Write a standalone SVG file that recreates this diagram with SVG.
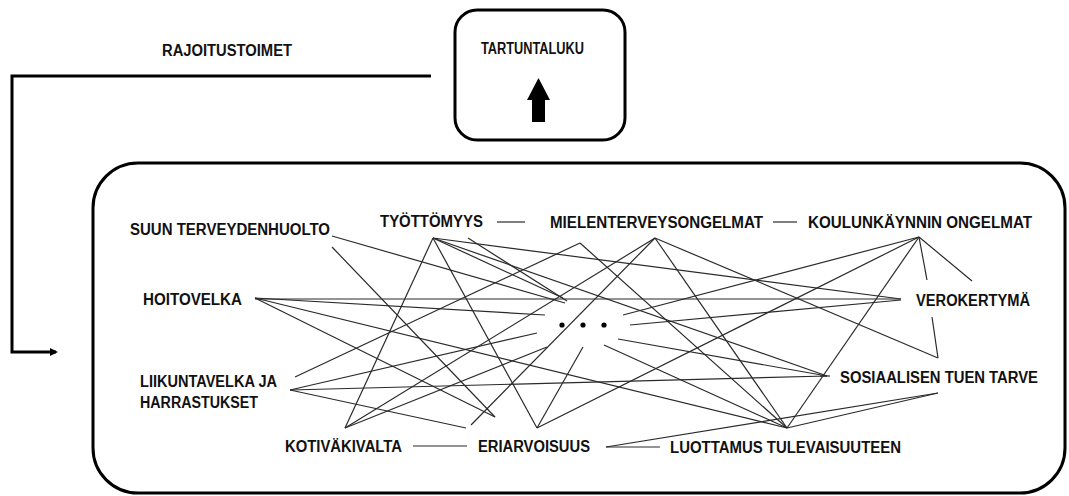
<svg xmlns="http://www.w3.org/2000/svg" width="1069" height="496" viewBox="0 0 1069 496">
<style>
.lbl{font-family:"Liberation Sans",Arial,sans-serif;font-weight:bold;font-size:16px;fill:#111}
.box{fill:none;stroke:#000;stroke-width:3}
.ln{stroke:#2a2a2a;stroke-width:1.2;fill:none}
.fb{stroke:#000;stroke-width:3;fill:none}
</style>
<defs>
<marker id="ah" markerWidth="8" markerHeight="8" refX="6" refY="4" orient="auto" markerUnits="userSpaceOnUse">
<path d="M0,0 L8,4 L0,8 Z" fill="#000"/>
</marker>
</defs>
<rect width="1069" height="496" fill="#fff"/>

<g id="feedback">
<path class="fb" d="M431,76 H12 V352 H56" marker-end="url(#ah)"/>
<text class="lbl" x="162" y="56" textLength="130" lengthAdjust="spacingAndGlyphs">RAJOITUSTOIMET</text>
</g>

<g id="tartuntaluku">
<rect class="box" x="455" y="10" width="170" height="130" rx="22"/>
<text class="lbl" x="481" y="54" textLength="103" lengthAdjust="spacingAndGlyphs">TARTUNTALUKU</text>
<polygon points="538.5,78 550,100 545,100 545,122 532,122 532,100 527,100" fill="#000"/>
</g>

<g id="frame">
<rect class="box" x="93" y="163" width="972" height="330" rx="45"/>
</g>

<g id="connectors">
<line class="ln" x1="332" y1="236" x2="565" y2="303"/>
<line class="ln" x1="332" y1="247" x2="495" y2="417"/>
<line class="ln" x1="433" y1="238" x2="345" y2="428"/>
<line class="ln" x1="433" y1="238" x2="537" y2="428"/>
<line class="ln" x1="433" y1="238" x2="901" y2="299"/>
<line class="ln" x1="433" y1="238" x2="827" y2="376"/>
<line class="ln" x1="433" y1="238" x2="563" y2="298"/>
<line class="ln" x1="468" y1="238" x2="567" y2="301"/>
<line class="ln" x1="580" y1="243" x2="295" y2="377"/>
<line class="ln" x1="580" y1="243" x2="787" y2="428"/>
<line class="ln" x1="655" y1="238" x2="345" y2="428"/>
<line class="ln" x1="655" y1="238" x2="471" y2="425"/>
<line class="ln" x1="655" y1="238" x2="787" y2="428"/>
<line class="ln" x1="655" y1="238" x2="938" y2="358"/>
<line class="ln" x1="919" y1="237" x2="623" y2="315"/>
<line class="ln" x1="919" y1="237" x2="537" y2="428"/>
<line class="ln" x1="919" y1="237" x2="787" y2="428"/>
<line class="ln" x1="919" y1="237" x2="927" y2="280"/>
<line class="ln" x1="919" y1="237" x2="972" y2="281"/>
<line class="ln" x1="932" y1="317" x2="938" y2="358"/>
<line class="ln" x1="255" y1="299" x2="901" y2="299"/>
<line class="ln" x1="255" y1="298" x2="545" y2="315"/>
<line class="ln" x1="255" y1="298" x2="787" y2="428"/>
<line class="ln" x1="255" y1="298" x2="495" y2="417"/>
<line class="ln" x1="290" y1="390" x2="827" y2="376"/>
<line class="ln" x1="290" y1="390" x2="537" y2="333"/>
<line class="ln" x1="290" y1="390" x2="466" y2="428"/>
<line class="ln" x1="345" y1="428" x2="547" y2="347"/>
<line class="ln" x1="630" y1="325" x2="901" y2="300"/>
<line class="ln" x1="618" y1="339" x2="827" y2="376"/>
<line class="ln" x1="604" y1="345" x2="787" y2="428"/>
<line class="ln" x1="583" y1="347" x2="537" y2="428"/>
<line class="ln" x1="938" y1="393" x2="787" y2="428"/>
<line class="ln" x1="938" y1="393" x2="606" y2="447"/>
<line class="ln" x1="820" y1="376" x2="830" y2="376"/>
<line class="ln" x1="497" y1="222" x2="525" y2="222"/>
<line class="ln" x1="773" y1="222" x2="797" y2="222"/>
<line class="ln" x1="413" y1="446" x2="467" y2="446"/>
<line class="ln" x1="606" y1="447" x2="660" y2="447"/>
</g>

<g id="n-suun"><text class="lbl" x="130" y="235" textLength="200" lengthAdjust="spacingAndGlyphs">SUUN TERVEYDENHUOLTO</text></g>
<g id="n-tyottomyys"><text class="lbl" x="380" y="227" textLength="103" lengthAdjust="spacingAndGlyphs">TYÖTTÖMYYS</text></g>
<g id="n-mielenterveys"><text class="lbl" x="550" y="228" textLength="213" lengthAdjust="spacingAndGlyphs">MIELENTERVEYSONGELMAT</text></g>
<g id="n-koulunkaynti"><text class="lbl" x="808" y="228" textLength="224" lengthAdjust="spacingAndGlyphs">KOULUNKÄYNNIN ONGELMAT</text></g>
<g id="n-hoitovelka"><text class="lbl" x="143" y="305" textLength="99" lengthAdjust="spacingAndGlyphs">HOITOVELKA</text></g>
<g id="n-verokertyma"><text class="lbl" x="916" y="306" textLength="114" lengthAdjust="spacingAndGlyphs">VEROKERTYMÄ</text></g>
<g id="n-dots">
<circle cx="562" cy="325" r="2.6" fill="#000"/>
<circle cx="583" cy="325" r="2.6" fill="#000"/>
<circle cx="604" cy="325" r="2.6" fill="#000"/>
</g>
<g id="n-liikuntavelka">
<text class="lbl" x="140" y="387" textLength="137" lengthAdjust="spacingAndGlyphs">LIIKUNTAVELKA JA</text>
<text class="lbl" x="140" y="408" textLength="118" lengthAdjust="spacingAndGlyphs">HARRASTUKSET</text>
</g>
<g id="n-sosiaalinen"><text class="lbl" x="840" y="383" textLength="198" lengthAdjust="spacingAndGlyphs">SOSIAALISEN TUEN TARVE</text></g>
<g id="n-kotivakivalta"><text class="lbl" x="285" y="452" textLength="117" lengthAdjust="spacingAndGlyphs">KOTIVÄKIVALTA</text></g>
<g id="n-eriarvoisuus"><text class="lbl" x="478" y="452" textLength="112" lengthAdjust="spacingAndGlyphs">ERIARVOISUUS</text></g>
<g id="n-luottamus"><text class="lbl" x="670" y="453" textLength="231" lengthAdjust="spacingAndGlyphs">LUOTTAMUS TULEVAISUUTEEN</text></g>
</svg>
